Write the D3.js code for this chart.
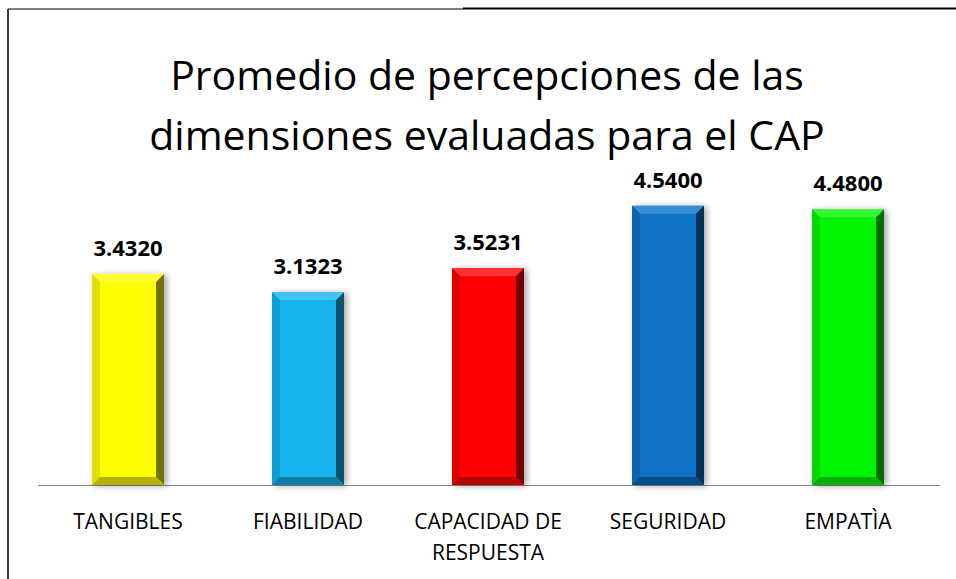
<!DOCTYPE html>
<html>
<head>
<meta charset="utf-8">
<script src="https://cdn.jsdelivr.net/npm/d3@7"></script>
<style>
body{margin:0;background:#fff}
text{font-family:"Open Sans",sans-serif}
</style>
</head>
<body>
<script>
const categories=["TANGIBLES","FIABILIDAD","CAPACIDAD DE RESPUESTA","SEGURIDAD","EMPATÌA"];
const values=[3.4320,3.1323,3.5231,4.5400,4.4800];
const colors=["#ffff00","#12b4ee","#ff0000","#0872c4","#00f500"];
const titleLines=["Promedio de percepciones de las","dimensiones evaluadas para el CAP"];

const W=956,H=579;
const svg=d3.select("body").append("svg").attr("width",W).attr("height",H);

// frame
svg.append("line").attr("x1",8).attr("x2",8).attr("y1",9).attr("y2",H).attr("stroke","#000").attr("stroke-width",1.5);
svg.append("line").attr("x1",8).attr("x2",463).attr("y1",9).attr("y2",9).attr("stroke","#000").attr("stroke-width",1);
svg.append("line").attr("x1",463).attr("x2",W).attr("y1",8.5).attr("y2",8.5).attr("stroke","#000").attr("stroke-width",2);

// title
svg.selectAll(".title").data(titleLines).enter().append("text")
  .attr("class","title")
  .attr("x",487).attr("y",(d,i)=>90+i*60)
  .attr("text-anchor","middle")
  .style("font-size","41px")
  .text(d=>d);

const x=d3.scaleBand().domain(categories).range([38,938]).paddingInner(0.6).paddingOuter(0.3);
const y=d3.scaleLinear().domain([0,5]).range([485,177.5]);

const defs=svg.append("defs");
const f=defs.append("filter").attr("id","sh").attr("x","-30%").attr("y","-10%").attr("width","160%").attr("height","120%");
f.append("feGaussianBlur").attr("in","SourceAlpha").attr("stdDeviation",3);
f.append("feOffset").attr("dx",3).attr("dy",1).attr("result","b");
f.append("feComponentTransfer").append("feFuncA").attr("type","linear").attr("slope",0.35);
const fm=f.append("feMerge");
fm.append("feMergeNode");
fm.append("feMergeNode").attr("in","SourceGraphic");

// baseline
svg.append("line").attr("x1",38).attr("x2",940).attr("y1",y(0)+0.5).attr("y2",y(0)+0.5).attr("stroke","#888").attr("stroke-width",1);

const bv=8;
const bars=svg.selectAll(".bar").data(categories).enter().append("g").attr("class","bar").attr("filter","url(#sh)");
bars.each(function(c,i){
  const g=d3.select(this);
  const x0=x(c),x1=x(c)+x.bandwidth(),y0=y(values[i]),y1=y(0);
  const col=colors[i];
  g.append("rect").attr("x",x0).attr("y",y0).attr("width",x1-x0).attr("height",y1-y0).attr("fill",col);
  const poly=(pts,fill)=>g.append("polygon").attr("points",pts.map(p=>p.join(",")).join(" ")).attr("fill",fill);
  poly([[x0,y0],[x1,y0],[x1-bv,y0+bv],[x0+bv,y0+bv]],d3.interpolateRgb(col,"#fff")(0.2));
  poly([[x0,y0],[x0+bv,y0+bv],[x0+bv,y1-bv],[x0,y1]],d3.interpolateRgb(col,"#000")(0.12));
  poly([[x1,y0],[x1,y1],[x1-bv,y1-bv],[x1-bv,y0+bv]],d3.interpolateRgb(col,"#000")(0.55));
  poly([[x0,y1],[x0+bv,y1-bv],[x1-bv,y1-bv],[x1,y1]],d3.interpolateRgb(col,"#000")(0.3));
});

// value labels
svg.selectAll(".val").data(values).enter().append("text")
  .attr("class","val")
  .attr("x",(d,i)=>x(categories[i])+x.bandwidth()/2)
  .attr("y",d=>y(d)-18)
  .attr("text-anchor","middle")
  .style("font-size","22px").style("font-weight","bold")
  .text(d=>d.toFixed(4));

// category labels
const lab=svg.selectAll(".cat").data(categories).enter().append("text")
  .attr("class","cat")
  .attr("x",c=>x(c)+x.bandwidth()/2)
  .attr("y",529)
  .attr("text-anchor","middle")
  .style("font-size","21px");
lab.each(function(c){
  const t=d3.select(this);
  const parts=c==="CAPACIDAD DE RESPUESTA"?["CAPACIDAD DE","RESPUESTA"]:[c];
  parts.forEach((p,j)=>t.append("tspan").attr("x",x(c)+x.bandwidth()/2).attr("dy",j?31:0).text(p));
});
</script>
</body>
</html>
